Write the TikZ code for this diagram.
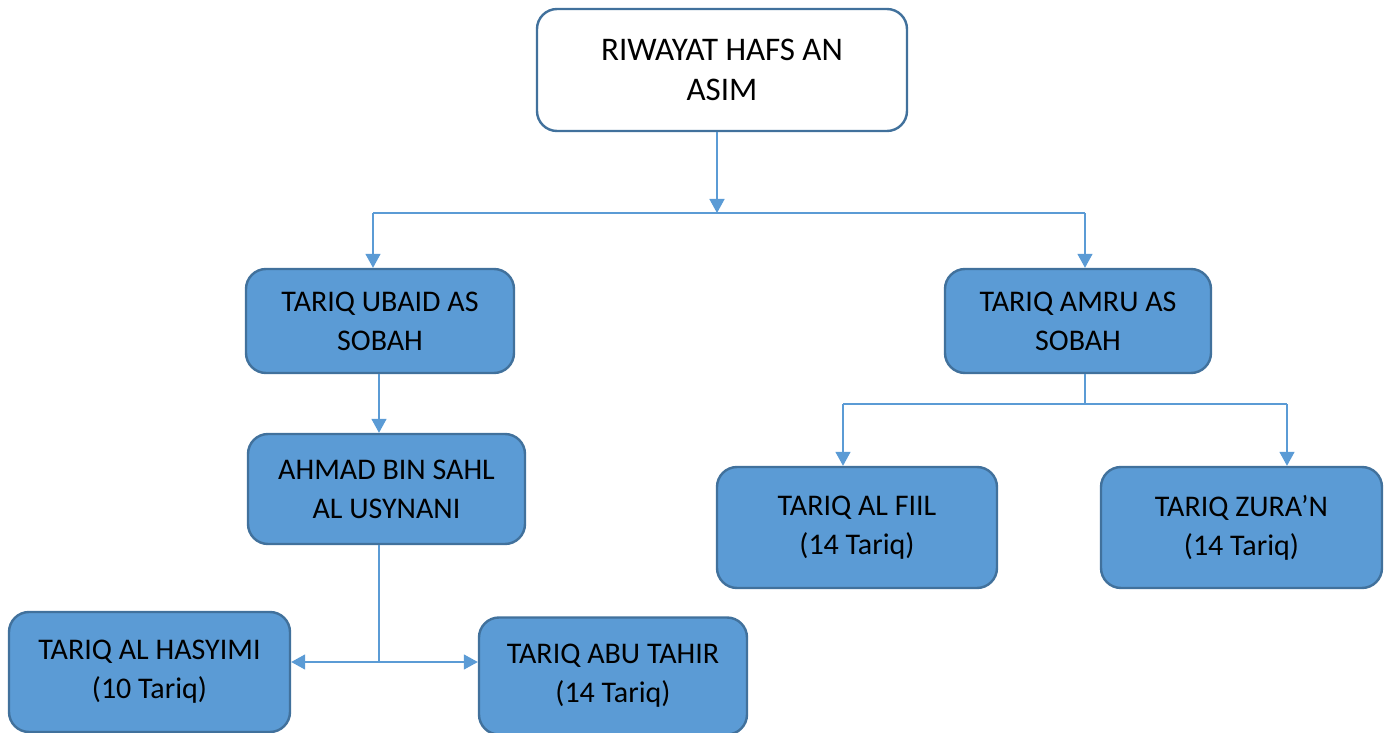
\documentclass[tikz,border=0pt]{standalone}
\usepackage{fontspec}
\setmainfont{Carlito}
\usetikzlibrary{arrows.meta}
\definecolor{boxfill}{HTML}{5B9BD5}
\definecolor{boxline}{HTML}{41719C}
\definecolor{linkcol}{HTML}{5B9BD5}
\begin{document}
\begin{tikzpicture}[x=0.5pt,y=-0.5pt,
  every node/.style={draw=boxline,line width=1.2pt,rounded corners=10pt,fill=boxfill,
    align=center,font=\fontsize{15}{19.5}\selectfont,inner sep=0pt},
  link/.style={draw=linkcol,line width=0.75pt},
  arr/.style={link,-{Triangle[length=7pt,width=7.5pt]}}]
\useasboundingbox (0,0) rectangle (1389,733);

\node[fill=white,font=\fontsize{16.5}{20}\selectfont,minimum width=185pt,minimum height=61pt] (top) at (722,70) {RIWAYAT HAFS AN\\ASIM};
\node[minimum width=134pt,minimum height=52pt] (ubaid) at (380,321) {TARIQ UBAID AS\\SOBAH};
\node[minimum width=133pt,minimum height=52pt] (amru) at (1078,321) {TARIQ AMRU AS\\SOBAH};
\node[minimum width=138.5pt,minimum height=55pt] (ahmad) at (386.5,489) {AHMAD BIN SAHL\\AL USYNANI};
\node[minimum width=140pt,minimum height=60.5pt] (fiil) at (857,527.5) {TARIQ AL FIIL\\(14 Tariq)};
\node[minimum width=140.5pt,minimum height=60.5pt] (zura) at (1241.5,527.5) {TARIQ ZURA’N\\(14 Tariq)};
\node[minimum width=140.5pt,minimum height=60pt] (hasyimi) at (149.5,672) {TARIQ AL HASYIMI\\(10 Tariq)};
\node[minimum width=134pt,minimum height=58.5pt] (abutahir) at (613,676) {TARIQ ABU TAHIR\\(14 Tariq)};

\coordinate (j1) at (717,213);
\coordinate (j1l) at (373,213);
\coordinate (j1r) at (1085,213);
\coordinate (j2) at (1085,404);
\coordinate (j2l) at (843,404);
\coordinate (j2r) at (1287,404);
\coordinate (j3) at (379,662);

\draw[arr] (top.south -| j1) -- (j1);
\draw[link] (j1l) -- (j1r);
\draw[arr] (j1l) -- (j1l |- ubaid.north);
\draw[arr] (j1r) -- (j1r |- amru.north);

\draw[arr] (ubaid.south -| j3) -- (ahmad.north -| j3);

\draw[link] (amru.south -| j2) -- (j2);
\draw[link] (j2l) -- (j2r);
\draw[arr] (j2l) -- (j2l |- fiil.north);
\draw[arr] (j2r) -- (j2r |- zura.north);

\draw[link] (ahmad.south -| j3) -- (j3);
\draw[arr] (j3) -- (j3 -| hasyimi.east);
\draw[arr] (j3) -- (j3 -| abutahir.west);
\end{tikzpicture}
\end{document}
